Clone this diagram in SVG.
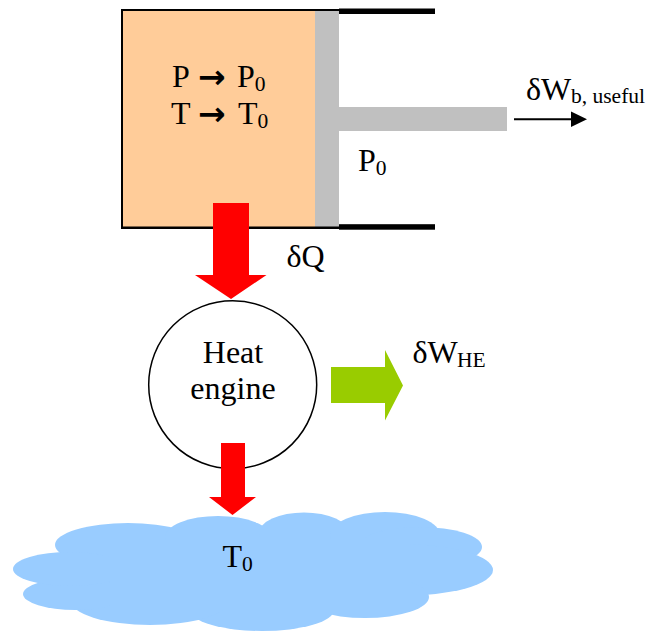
<svg xmlns="http://www.w3.org/2000/svg" width="646" height="631" viewBox="0 0 646 631">
<style>
text{font-family:"Liberation Serif","Times New Roman",serif;font-size:32px;fill:#000}
.s{font-size:21.500px}
.g{font-family:"DejaVu Sans",sans-serif;font-size:33px;font-weight:bold}
.c{fill:#99ccff}
.r{fill:#ff0000}
.b{fill:#000}
</style>
<rect width="646" height="631" fill="#fff"/>
<g id="cylinder">
<rect x="122" y="10" width="193" height="217" fill="#ffcc99"/>
<rect x="315" y="11" width="24" height="216" fill="#c0c0c0"/>
<rect x="339" y="107" width="168" height="24" fill="#c0c0c0"/>
<path class="b" d="M121 9H339V11H123V226.500H339V229H121Z"/>
<rect class="b" x="339" y="8.500" width="96" height="5.500"/>
<rect class="b" x="339" y="224.200" width="96" height="5.500"/>
<text x="172" y="87">P</text>
<text class="g" x="198" y="88">→</text>
<text x="237" y="87">P<tspan class="s" dy="4">0</tspan></text>
<text x="171" y="124">T</text>
<text class="g" x="198" y="125">→</text>
<text x="238" y="124">T<tspan class="s" dy="4">0</tspan></text>
<text x="358" y="171">P<tspan class="s" dy="4">0</tspan></text>
</g>
<g id="cloud">
<ellipse class="c" cx="128" cy="545" rx="73" ry="22"/>
<ellipse class="c" cx="218" cy="537" rx="53" ry="21"/>
<ellipse class="c" cx="304" cy="533" rx="45" ry="20.500"/>
<ellipse class="c" cx="385" cy="535" rx="55" ry="23"/>
<ellipse class="c" cx="420" cy="547" rx="62" ry="20"/>
<ellipse class="c" cx="400" cy="570" rx="93" ry="26"/>
<ellipse class="c" cx="365" cy="597" rx="64" ry="21"/>
<ellipse class="c" cx="262" cy="610" rx="72" ry="21"/>
<ellipse class="c" cx="150" cy="600" rx="80" ry="25"/>
<ellipse class="c" cx="75" cy="594" rx="52" ry="16"/>
<ellipse class="c" cx="70" cy="569" rx="57" ry="17"/>
<rect class="c" x="110" y="540" width="300" height="70"/>
<text x="222.500" y="567">T<tspan class="s" dy="4">0</tspan></text>
</g>
<g id="heat-engine">
<circle cx="232.700" cy="384.700" r="84" fill="#fff" stroke="#000" stroke-width="1.500"/>
<text x="233" y="363" text-anchor="middle">Heat</text>
<text x="233" y="399" text-anchor="middle">engine</text>
</g>
<g id="connectors">
<path class="r" d="M213 203H249V275H266.500L231 299L195 275H213Z"/>
<path class="r" d="M221 443H245V497H256L232.500 515L209 497H221Z"/>
<path fill="#99cc00" d="M331 367H385V350L403 385.500L385 420.500V403H331Z"/>
<path stroke="#000" stroke-width="2" fill="none" d="M514 119.300H572"/>
<path class="b" d="M571 111.500L587 119.300L571 127Z"/>
</g>
<g id="labels">
<text x="286.500" y="267">δQ</text>
<text x="412.500" y="363">δW<tspan class="s" x="457" dy="3.500">HE</tspan></text>
<text x="526" y="99.500">δW<tspan class="s" x="571" dy="3.500">b, useful</tspan></text>
</g>
</svg>
